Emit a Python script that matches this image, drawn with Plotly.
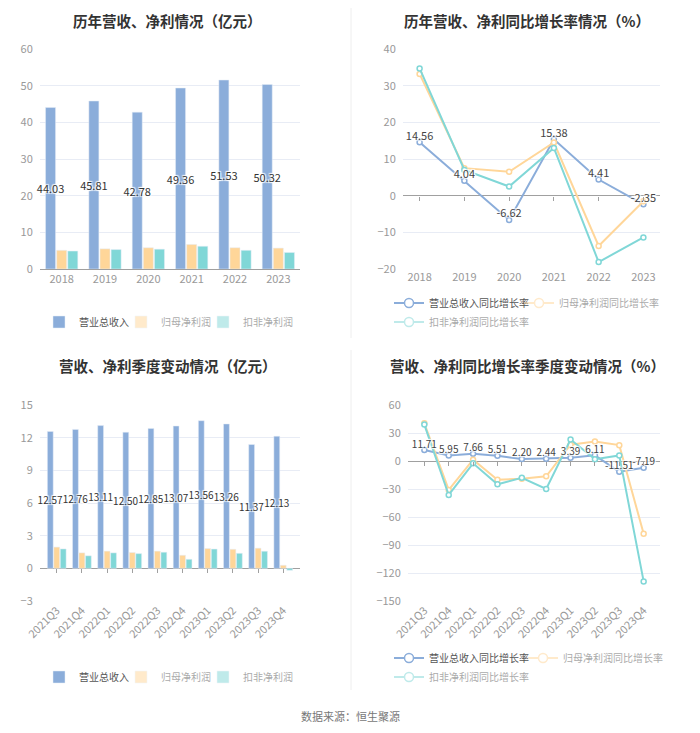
"""
营收、净利情况 四图
"""
import plotly.graph_objects as go

# ---- 数据 ----
years = ["2018", "2019", "2020", "2021", "2022", "2023"]
rev_year = [44.03, 45.81, 42.78, 49.36, 51.53, 50.32]
np_year = [5.10, 5.50, 5.80, 6.70, 5.80, 5.70]
npd_year = [4.90, 5.30, 5.40, 6.20, 5.10, 4.50]

rev_year_g = [14.56, 4.04, -6.62, 15.38, 4.41, -2.35]
np_year_g = [33.2, 7.5, 6.5, 14.5, -13.7, -1.5]
npd_year_g = [34.7, 7.0, 2.5, 13.0, -18.1, -11.4]

quarters = ["2021Q3", "2021Q4", "2022Q1", "2022Q2", "2022Q3",
            "2022Q4", "2023Q1", "2023Q2", "2023Q3", "2023Q4"]
rev_q = [12.57, 12.76, 13.11, 12.50, 12.85, 13.07, 13.56, 13.26, 11.37, 12.13]
np_q = [1.95, 1.42, 1.58, 1.45, 1.58, 1.20, 1.82, 1.75, 1.85, 0.28]
npd_q = [1.78, 1.15, 1.42, 1.35, 1.48, 0.83, 1.77, 1.38, 1.57, -0.18]

rev_q_g = [11.71, 5.95, 7.66, 5.51, 2.20, 2.44, 3.39, 6.11, -11.51, -7.19]
np_q_g = [40.4, -31.0, 1.4, -20.0, -19.0, -16.4, 17.5, 21.0, 17.0, -78.0]
npd_q_g = [39.0, -36.4, -2.5, -25.0, -18.0, -30.0, 23.0, 2.0, 6.0, -129.0]

names_bar = ["营业总收入", "归母净利润", "扣非净利润"]
names_line = ["营业总收入同比增长率", "归母净利润同比增长率", "扣非净利润同比增长率"]

BLUE = "#8badda"
ORANGE = "#ffd699"
TEAL = "#80d7d7"
COLS = [BLUE, ORANGE, TEAL]
FONT = "Noto Sans CJK SC"
SHADOW = "1px 1px 1px #fff, -1px -1px 1px #fff, 1px -1px 1px #fff, -1px 1px 1px #fff"

W, H = 700, 733
OFF = 8  # 页面自带的边距


def px_x(a, b):
    return [(a - OFF) / W, (b - OFF) / W]


def px_y(top, bottom):
    return [1 - (bottom - OFF) / H, 1 - (top - OFF) / H]


dom_x_l = px_x(40, 300)
dom_x_r1 = px_x(403, 660)
dom_x_r2 = px_x(408, 660)
dom_y_t = px_y(49, 269)
dom_y_b = px_y(405, 601)

rng = {"y": [0, 60], "y2": [-20, 40], "y3": [-3, 15], "y4": [-150, 60]}


def zero_pos(dom, r):
    return dom[0] + (dom[1] - dom[0]) * (0 - r[0]) / (r[1] - r[0])


fig = go.Figure()


def add_bars(x, vals, xa, ya, legs, size):
    for i, v in enumerate(vals):
        fig.add_trace(go.Bar(
            x=x, y=v, name=names_bar[i], marker_color=COLS[i],
            xaxis=xa, yaxis=ya, legend=legs[0], showlegend=(i == 0),
            text=[f"{t:.2f}" for t in v] if i == 0 else None,
            textposition="inside" if i == 0 else "none",
            insidetextanchor="middle", constraintext="none", textangle=0,
            cliponaxis=False,
            textfont=dict(size=size, color="#333", family=FONT, shadow=SHADOW),
            hoverinfo="x+y"))
    for i in (1, 2):
        fig.add_trace(go.Bar(
            x=x, y=vals[i], name=names_bar[i], marker_color=COLS[i],
            xaxis=xa, yaxis=ya, legend=legs[i], visible="legendonly"))


def line_trace(x, y, i, xa, ya, leg, msize=5, **kw):
    return go.Scatter(
        x=x, y=y, name=names_line[i], mode="lines+markers",
        line=dict(color=COLS[i], width=2),
        marker=dict(symbol="circle", size=msize, color="white",
                    line=dict(color=COLS[i], width=1.5)),
        xaxis=xa, yaxis=ya, legend=leg, **kw)


def add_lines(x, vals, xa, ya, legs, size):
    for i, v in enumerate(vals):
        fig.add_trace(line_trace(x, v, i, xa, ya, legs[0], showlegend=False))
    # 图例条目（不画在图上）
    fig.add_trace(line_trace([None], [None], 0, xa, ya, legs[0], msize=9))
    for i in (1, 2):
        fig.add_trace(line_trace(x, vals[i], i, xa, ya, legs[i], msize=9,
                                 visible="legendonly"))
    # 数值标签放在最上层
    fig.add_trace(go.Scatter(
        x=x, y=vals[0], mode="text", text=[f"{t:.2f}" for t in vals[0]],
        textposition="top center", showlegend=False, hoverinfo="skip",
        cliponaxis=False,
        textfont=dict(size=size, color="#444", family=FONT, shadow=SHADOW),
        xaxis=xa, yaxis=ya))


def add_tick_axis(x, y, xa, ya):
    # 零轴上的刻度
    fig.add_trace(go.Scatter(x=x, y=y, mode="markers", marker_opacity=0,
                             showlegend=False, hoverinfo="skip",
                             xaxis=xa, yaxis=ya))


add_bars(years, [rev_year, np_year, npd_year], "x", "y",
         ["legend", "legend2", "legend3"], 11)
add_lines(years, [rev_year_g, np_year_g, npd_year_g], "x2", "y2",
          ["legend4", "legend5", "legend6"], 11)
add_bars(quarters, [rev_q, np_q, npd_q], "x3", "y3",
         ["legend7", "legend8", "legend9"], 10)
add_lines(quarters, [rev_q_g, np_q_g, npd_q_g], "x4", "y4",
          ["legend10", "legend11", "legend12"], 10)
add_tick_axis(years, rev_year_g, "x5", "y2")
add_tick_axis(quarters, rev_q, "x6", "y3")
add_tick_axis(quarters, rev_q_g, "x7", "y4")

tickfont = dict(size=11, color="#999", family=FONT)
grid = "#e8ecf5"
axis_line = "#a0a0a0"


def xax(dom, anchor, line, angle=0):
    return dict(domain=dom, anchor=anchor, type="category", showgrid=False,
                showline=line, linecolor=axis_line, ticks="", zeroline=False,
                tickfont=tickfont, tickangle=angle, fixedrange=True,
                automargin=False)


def yax(dom, anchor, r, dt, zl):
    return dict(domain=dom, anchor=anchor, range=r, dtick=dt, showline=False,
                gridcolor=grid, zeroline=zl, zerolinecolor=axis_line,
                zerolinewidth=1, tickfont=tickfont, ticks="outside", ticklen=4,
                tickcolor="rgba(0,0,0,0)", fixedrange=True, automargin=False)


def tick_ax(over, dom_y, r):
    return dict(overlaying=over, matches=over, anchor="free",
                position=zero_pos(dom_y, r), showline=False, showgrid=False,
                ticks="outside", ticklen=4, tickcolor=axis_line,
                showticklabels=False, zeroline=False, type="category")


def legend(text_x, y):
    # text_x: 图例文字起点（页面像素）
    return dict(orientation="h", x=(text_x - 38 - OFF) / W, y=1 - (y - OFF) / H,
                xanchor="left", yanchor="middle",
                font=dict(size=10, color="#555", family=FONT),
                bgcolor="rgba(0,0,0,0)", itemclick=False, itemdoubleclick=False)


def ann(text, x, y, size, color, bold=False, top=False):
    return dict(text=f"<b>{text}</b>" if bold else text,
                x=(x - OFF) / W, y=1 if top else 1 - (y - OFF) / H,
                xref="paper", yref="paper", showarrow=False,
                xanchor="center", yanchor="top" if top else "middle",
                font=dict(size=size, color=color, family=FONT))


fig.update_layout(
    width=W, height=H, margin=dict(l=0, r=0, t=0, b=0, autoexpand=False),
    paper_bgcolor="white", plot_bgcolor="white",
    font=dict(family=FONT), barmode="group", bargap=0.23, bargroupgap=0.1,
    xaxis=xax(dom_x_l, "y", True),
    yaxis=yax(dom_y_t, "x", rng["y"], 10, False),
    xaxis2=xax(dom_x_r1, "y2", False),
    yaxis2=yax(dom_y_t, "x2", rng["y2"], 10, True),
    xaxis3=xax(dom_x_l, "y3", False, -45),
    yaxis3=yax(dom_y_b, "x3", rng["y3"], 3, True),
    xaxis4=xax(dom_x_r2, "y4", False, -45),
    yaxis4=yax(dom_y_b, "x4", rng["y4"], 30, True),
    xaxis5=tick_ax("x2", dom_y_t, rng["y2"]),
    xaxis6=tick_ax("x3", dom_y_b, rng["y3"]),
    xaxis7=tick_ax("x4", dom_y_b, rng["y4"]),
    legend=legend(77, 322),
    legend2=legend(159, 322),
    legend3=legend(241, 322),
    legend4=legend(427, 303),
    legend5=legend(557, 303),
    legend6=legend(427, 322),
    legend7=legend(77, 677),
    legend8=legend(159, 677),
    legend9=legend(241, 677),
    legend10=legend(427, 658),
    legend11=legend(561, 658),
    legend12=legend(427, 677),
    annotations=[
        ann("历年营收、净利情况（亿元）", 167, 13, 14.5, "#333", True, True),
        ann("历年营收、净利同比增长率情况（%）", 527, 13, 14.5, "#333", True, True),
        ann("营收、净利季度变动情况（亿元）", 168, 365, 14.5, "#333", True),
        ann("营收、净利同比增长率季度变动情况（%）", 527, 365, 14.5, "#333", True),
        ann("数据来源：恒生聚源", 350, 716, 11, "#777"),
    ],
    shapes=[
        dict(type="line", xref="paper", yref="paper",
             x0=(351 - OFF) / W, x1=(351 - OFF) / W,
             y0=1, y1=1 - (338 - OFF) / H, line=dict(color="#eeeeee", width=1)),
        dict(type="line", xref="paper", yref="paper",
             x0=(351 - OFF) / W, x1=(351 - OFF) / W,
             y0=1 - (350 - OFF) / H, y1=1 - (690 - OFF) / H,
             line=dict(color="#eeeeee", width=1)),
    ],
)

fig.write_html("out.html")
